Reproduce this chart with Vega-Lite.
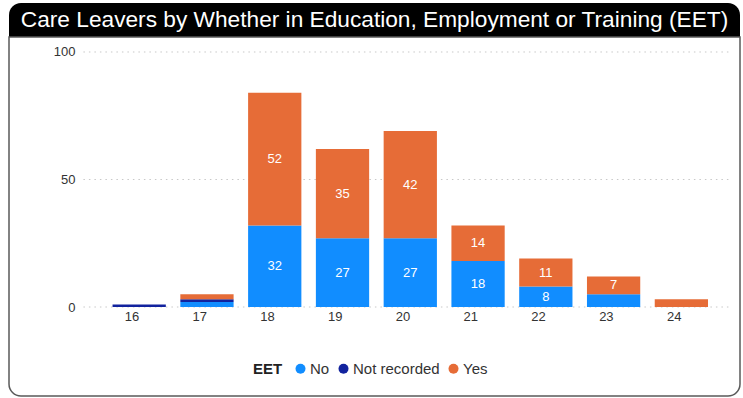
{
  "$schema": "https://vega.github.io/schema/vega-lite/v6.json",
  "background": "white",
  "padding": {"left": 8, "top": 3, "right": 0, "bottom": 0},
  "spacing": 0,
  "bounds": "flush",
  "config": {
    "font": "Liberation Sans",
    "view": {"stroke": null}
  },
  "vconcat": [
    {
      "width": 731,
      "height": 34,
      "data": {"values": [{"label": "Care Leavers by Whether in Education, Employment or Training (EET)"}]},
      "layer": [
        {
          "mark": {"type": "rect", "color": "black", "cornerRadiusTopLeft": 12, "cornerRadiusTopRight": 12},
          "encoding": {
            "x": {"datum": 0, "type": "quantitative", "scale": {"domain": [0, 1], "nice": false}, "axis": null},
            "x2": {"datum": 1},
            "y": {"datum": 0, "type": "quantitative", "scale": {"domain": [0, 1], "nice": false}, "axis": null},
            "y2": {"datum": 1}
          }
        },
        {
          "mark": {"type": "text", "color": "white", "fontSize": 22.7, "font": "Liberation Sans", "baseline": "middle", "align": "center"},
          "encoding": {
            "text": {"field": "label", "type": "nominal"},
            "x": {"datum": 0.5, "type": "quantitative"},
            "y": {"datum": 0.5, "type": "quantitative"}
          }
        }
      ]
    },
    {
      "width": 731,
      "height": 359,
      "data": {
        "values": [
          {"age": 16, "EET": "Not recorded", "value": 1},
          {"age": 17, "EET": "No", "value": 2},
          {"age": 17, "EET": "Not recorded", "value": 1},
          {"age": 17, "EET": "Yes", "value": 2},
          {"age": 18, "EET": "No", "value": 32},
          {"age": 18, "EET": "Yes", "value": 52},
          {"age": 19, "EET": "No", "value": 27},
          {"age": 19, "EET": "Yes", "value": 35},
          {"age": 20, "EET": "No", "value": 27},
          {"age": 20, "EET": "Yes", "value": 42},
          {"age": 21, "EET": "No", "value": 18},
          {"age": 21, "EET": "Yes", "value": 14},
          {"age": 22, "EET": "No", "value": 8},
          {"age": 22, "EET": "Yes", "value": 11},
          {"age": 23, "EET": "No", "value": 5},
          {"age": 23, "EET": "Yes", "value": 7},
          {"age": 24, "EET": "Yes", "value": 3}
        ]
      },
      "layer": [
        {
          "data": {"values": [{"frame": "border"}]},
          "mark": {"type": "rect", "fill": "transparent", "stroke": "#5a5a5a", "strokeWidth": 1.5, "cornerRadiusBottomLeft": 12, "cornerRadiusBottomRight": 12},
          "encoding": {}
        },
        {
          "data": {"values": [{"g": 0}, {"g": 50}, {"g": 100}]},
          "mark": {"type": "rule", "color": "#c8c8c8", "strokeDash": [1.5, 4], "strokeWidth": 1},
          "encoding": {
            "y": {"field": "g", "type": "quantitative"},
            "x": {"datum": 16, "type": "ordinal", "bandPosition": -0.547},
            "x2": {"datum": 24, "bandPosition": 1.449}
          }
        },
        {
          "mark": {"type": "bar"},
          "encoding": {
            "x": {
              "field": "age",
              "type": "ordinal",
              "scale": {"paddingInner": 0.214, "paddingOuter": 1.03, "align": 0.764},
              "axis": {"title": null, "domain": false, "ticks": false, "labelAngle": 0, "offset": -89, "labelPadding": 9, "labelFontSize": 13, "labelColor": "#333333", "grid": false, "zindex": 1}
            },
            "y": {
              "field": "value",
              "type": "quantitative",
              "stack": "zero",
              "scale": {"domain": [-34.9, 105.88], "nice": false, "zero": false},
              "axis": {"title": null, "values": [0, 50, 100], "domain": false, "ticks": false, "grid": false, "offset": -70, "labelPadding": 4, "labelFontSize": 13, "labelColor": "#333333", "zindex": 1}
            },
            "color": {
              "field": "EET",
              "type": "nominal",
              "scale": {"domain": ["No", "Not recorded", "Yes"], "range": ["#118DFF", "#12239E", "#E66C37"]},
              "legend": {
                "title": "EET",
                "orient": "none",
                "legendX": 244,
                "legendY": 358,
                "direction": "horizontal",
                "titleOrient": "left",
                "symbolType": "circle",
                "symbolSize": 100,
                "symbolStrokeWidth": 0,
                "labelFontSize": 15,
                "titleFontSize": 15,
                "titleFontWeight": "bold",
                "titleColor": "#222222",
                "labelColor": "#333333",
                "columnPadding": 6,
                "labelOffset": 2,
                "titlePadding": 10
              }
            },
            "order": {"field": "EET", "sort": "ascending"}
          }
        },
        {
          "mark": {"type": "text", "color": "white", "fontSize": 13},
          "encoding": {
            "x": {"field": "age", "type": "ordinal"},
            "y": {"field": "value", "type": "quantitative", "stack": "zero", "bandPosition": 0.5},
            "detail": {"field": "EET"},
            "order": {"field": "EET", "sort": "ascending"},
            "text": {"condition": {"test": "datum.value >= 7", "field": "value", "type": "quantitative"}, "value": ""}
          }
        }
      ]
    }
  ]
}
